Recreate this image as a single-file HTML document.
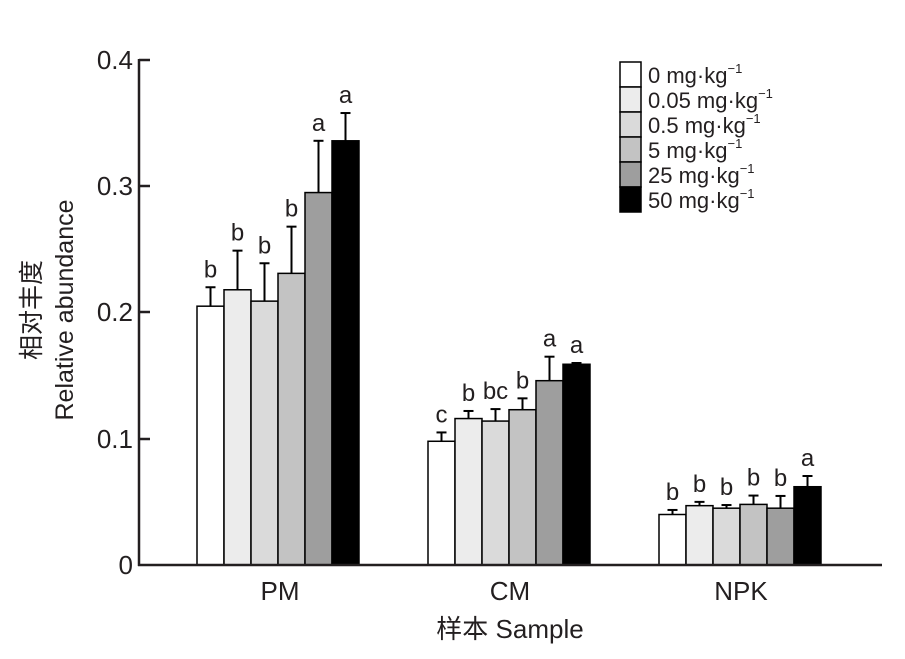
<!DOCTYPE html><html><head><style>body{margin:0;background:#fff}svg{display:block}text{font-family:"Liberation Sans","Noto Sans CJK SC",sans-serif;fill:#231f20}</style></head><body>
<svg width="905" height="659" viewBox="0 0 905 659" xmlns="http://www.w3.org/2000/svg">
<g id="bars" stroke="#000" stroke-width="1.5"></g>
<line x1="139" y1="59" x2="139" y2="566" stroke="#231f20" stroke-width="2.5"/>
<line x1="138" y1="565" x2="882" y2="565" stroke="#231f20" stroke-width="2.5"/>
<g stroke="#231f20" stroke-width="2.5">
<line x1="139" y1="60" x2="150" y2="60"/><line x1="139" y1="186" x2="150" y2="186"/><line x1="139" y1="312" x2="150" y2="312"/><line x1="139" y1="439" x2="150" y2="439"/>
</g>
<g font-size="26" text-anchor="end">
<text x="133" y="69">0.4</text><text x="133" y="195">0.3</text><text x="133" y="321">0.2</text><text x="133" y="448">0.1</text><text x="133" y="574">0</text>
</g>
<g font-size="26" text-anchor="middle">
<text x="280" y="600">PM</text><text x="510" y="600">CM</text><text x="741" y="600">NPK</text>
<text x="510" y="638">样本 Sample</text>
</g>
<text font-size="25" text-anchor="middle" transform="translate(40,310) rotate(-90)">相对丰度</text>
<text font-size="25" text-anchor="middle" transform="translate(73,310) rotate(-90)">Relative abundance</text>
<g font-size="22">
<rect x="620" y="62" width="21" height="25" fill="#fff" stroke="#000" stroke-width="1.5"/><text x="648" y="83">0 mg·kg<tspan font-size="13" dy="-10">−1</tspan></text>
<rect x="620" y="87" width="21" height="25" fill="#ececec" stroke="#000" stroke-width="1.5"/><text x="648" y="108">0.05 mg·kg<tspan font-size="13" dy="-10">−1</tspan></text>
<rect x="620" y="112" width="21" height="25" fill="#dadada" stroke="#000" stroke-width="1.5"/><text x="648" y="133">0.5 mg·kg<tspan font-size="13" dy="-10">−1</tspan></text>
<rect x="620" y="137" width="21" height="25" fill="#c3c3c3" stroke="#000" stroke-width="1.5"/><text x="648" y="158">5 mg·kg<tspan font-size="13" dy="-10">−1</tspan></text>
<rect x="620" y="162" width="21" height="25" fill="#9e9e9e" stroke="#000" stroke-width="1.5"/><text x="648" y="183">25 mg·kg<tspan font-size="13" dy="-10">−1</tspan></text>
<rect x="620" y="187" width="21" height="25" fill="#000" stroke="#000" stroke-width="1.5"/><text x="648" y="208">50 mg·kg<tspan font-size="13" dy="-10">−1</tspan></text>
</g>
<g id="lbl" font-size="24" text-anchor="middle"></g>
</svg>
<script>
var cols=["#fff","#ececec","#dadada","#c3c3c3","#9e9e9e","#000"];
var starts=[197,428,659],w=27,base=565,k=1262.5;
var vals=[[.205,.218,.209,.231,.295,.336],[.098,.116,.114,.123,.146,.159],[.040,.047,.045,.048,.045,.062]];
var errs=[[.220,.249,.239,.268,.336,.358],[.105,.122,.1235,.132,.165,.160],[.0436,.050,.0475,.055,.0547,.0705]];
var lets=[["b","b","b","b","a","a"],["c","b","bc","b","a","a"],["b","b","b","b","b","a"]];
var s="",l="";
for(var g=0;g<3;g++)for(var i=0;i<6;i++){var x=starts[g]+i*w,y=base-vals[g][i]*k,ey=base-errs[g][i]*k,cx=x+w/2;
s+='<line x1="'+cx+'" y1="'+y+'" x2="'+cx+'" y2="'+ey+'" stroke-width="2"/><line x1="'+(cx-5)+'" y1="'+ey+'" x2="'+(cx+5)+'" y2="'+ey+'" stroke-width="2"/>';
s+='<rect x="'+x+'" y="'+y+'" width="'+w+'" height="'+(base-y)+'" fill="'+cols[i]+'"/>';
l+='<text x="'+cx+'" y="'+(ey-10)+'">'+lets[g][i]+'</text>';}
document.getElementById("bars").innerHTML=s;document.getElementById("lbl").innerHTML=l;
</script>
</body></html>
